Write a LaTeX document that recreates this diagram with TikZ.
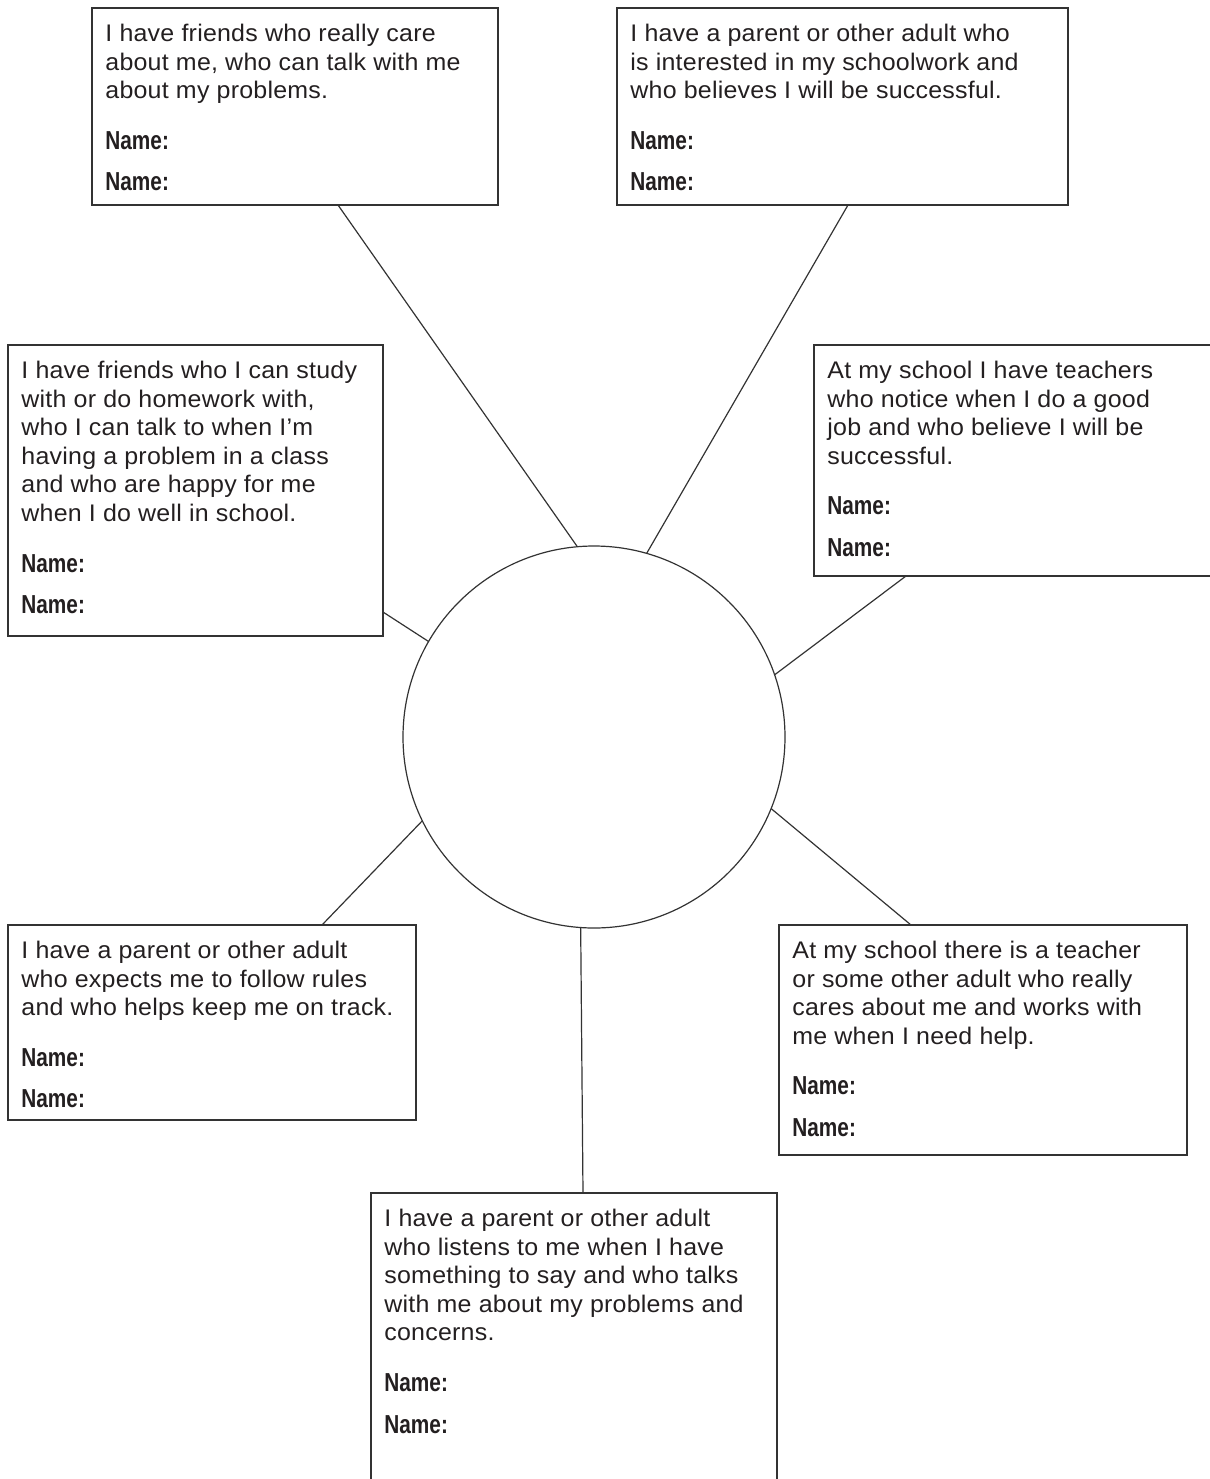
\documentclass[tikz,border=0pt]{standalone}
\usepackage{fontspec}
\usepackage{tikz}
\newfontfamily\cardFont{Liberation Sans}[FakeStretch=1.04, LetterSpace=1]
\newfontfamily\nameFont{Liberation Sans}[FakeStretch=0.8]
\definecolor{lineColor}{RGB}{51,51,51}
\definecolor{inkColor}{RGB}{35,31,32}
\tikzstyle{sheet} = [x = 0.5pt, y = -0.5pt]
\tikzstyle{boxStyle} = [draw=lineColor, line width=0.6pt, rectangle, inner sep=0, outer sep=0, anchor=north west]
\tikzstyle{cardText} = [anchor=north west, inner sep=0, align=left, text=inkColor, font=\cardFont\fontsize{12}{14.3}\selectfont]
\tikzstyle{centerStyle} = [draw=lineColor, line width=0.6pt, circle, minimum size=191pt, inner sep=0, outer sep=0]
\tikzstyle{spoke} = [draw=lineColor, line width=0.6pt]
\newcommand{\nameLabel}{{\nameFont\bfseries\fontsize{13}{14.3}\selectfont Name:}}
\newcommand{\supportBox}[6]{
  \node [boxStyle, minimum width={(#4-#2)*0.5pt}, minimum height={(#5-#3)*0.5pt}] (#1) at (#2,#3) {};
  \node [cardText] (#1Text) at ([shift={(13,0)}]#1.north west) {\rule{0pt}{16.5pt}#6\\[11pt]\nameLabel\\[6.5pt]\nameLabel};
}

\begin{document}
\begin{tikzpicture}[sheet]
        \useasboundingbox (0,0) rectangle (1210,1479);
        \clip (0,0) rectangle (1210,1479);

        \supportBox{friendsCare}{92}{8}{498}{205}{I have friends who really care\\about me, who can talk with me\\about my problems.}
        \supportBox{parentSchool}{617}{8}{1068}{205}{I have a parent or other adult who\\is interested in my schoolwork and\\who believes I will be successful.}
        \supportBox{friendsStudy}{8}{345}{383}{636}{I have friends who I can study\\with or do homework with,\\who I can talk to when I’m\\having a problem in a class\\and who are happy for me\\when I do well in school.}
        \supportBox{teachersNotice}{814}{345}{1230}{576}{At my school I have teachers\\who notice when I do a good\\job and who believe I will be\\successful.}
        \supportBox{parentRules}{8}{925}{416}{1120}{I have a parent or other adult\\who expects me to follow rules\\and who helps keep me on track.}
        \supportBox{teacherCares}{779}{925}{1187}{1155}{At my school there is a teacher\\or some other adult who really\\cares about me and works with\\me when I need help.}
        \supportBox{parentListens}{371}{1193}{777}{1500}{I have a parent or other adult\\who listens to me when I have\\something to say and who talks\\with me about my problems and\\concerns.}

        \node [centerStyle] (me) at (594,737) {};

        \draw [spoke] ([xshift=123pt]friendsCare.south west) -- (me.95.1);
        \draw [spoke] ([xshift=115.5pt]parentSchool.south west) -- (me.74.3);
        \draw [spoke] ([yshift=12pt]friendsStudy.south east) -- (me.150.6);
        \draw [spoke] ([xshift=46pt]teachersNotice.south west) -- (me.19.5);
        \draw [spoke] ([xshift=157pt]parentRules.north west) -- (me.206);
        \draw [spoke] ([xshift=66pt]teacherCares.north west) -- (me.338);
        \draw [spoke] ([xshift=106pt]parentListens.north west) -- (me.266.7);
      \end{tikzpicture}
\end{document}
